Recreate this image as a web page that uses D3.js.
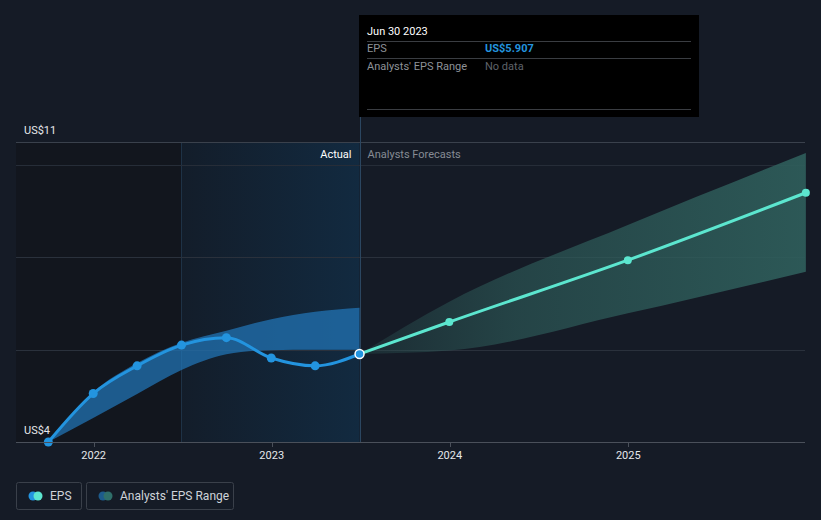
<!DOCTYPE html>
<html><head><meta charset="utf-8">
<script src="https://cdn.jsdelivr.net/npm/d3@7"></script>
<style>
html,body{margin:0;padding:0;background:#151b26;}
svg{display:block;font-family:Roboto,"Open Sans",sans-serif;}
</style></head>
<body>
<svg id="c" width="821" height="520"></svg>
<script>
// ---- data ----
const actualDates = ["2021-09-30","2021-12-31","2022-03-31","2022-06-30","2022-09-30","2022-12-31","2023-03-31","2023-06-30"];
const actualEPS   = [4.00, 5.05, 5.65, 6.10, 6.26, 5.82, 5.65, 5.907];
const pastRangeLow  = [4.00, 4.52, 5.04, 5.56, 5.90, 5.99, 6.00, 6.00];
const pastRangeHigh = [4.00, 5.08, 5.71, 6.15, 6.41, 6.66, 6.82, 6.91];
const forecastDates = ["2023-06-30","2023-12-31","2024-12-31","2025-12-31"];
const forecastEPS   = [5.907, 6.60, 7.94, 9.40];
const forecastLow   = [5.907, 5.98, 6.79, 7.69];
const forecastHigh  = [5.907, 7.04, 8.70, 10.26];
const gridValues = [6, 8, 10];
const yLabels = ["US$11", "US$4"];
const xTickYears = ["2022","2023","2024","2025"];

const parse = d3.timeParse("%Y-%m-%d");
const svg = d3.select("#c");
const L = 16, R = 805, T = 142, B = 442;

const x = d3.scaleTime().range([L, R]);
{
  const d0 = parse("2022-01-01"), d1 = parse("2025-01-01");
  const p0 = 93.7, p1 = 628.3;
  const k = (p1 - p0) / (d1 - d0);
  x.domain([new Date(+d0 - (p0 - L) / k), new Date(+d0 + (R - p0) / k)]);
}
const y = d3.scaleLinear().domain([4, 10.5]).range([B, T]);

const nowX = x(parse("2023-06-30"));
const hlX = x(parse("2022-06-30"));

// backgrounds
svg.append("rect").attr("x", L).attr("y", T).attr("width", hlX - L).attr("height", B - T).attr("fill", "#12161e");
const defs = svg.append("defs");
const g1 = defs.append("linearGradient").attr("id", "hl").attr("x1", "0").attr("x2", "1");
g1.append("stop").attr("offset", "0").attr("stop-color", "#131d2a");
g1.append("stop").attr("offset", "1").attr("stop-color", "#122a40");
const g2 = defs.append("linearGradient").attr("id", "fcg").attr("gradientUnits", "userSpaceOnUse")
  .attr("x1", nowX).attr("x2", R).attr("y1", 0).attr("y2", 0);
g2.append("stop").attr("offset", "0").attr("stop-color", "#2f5f5c").attr("stop-opacity", 0.25);
g2.append("stop").attr("offset", "0.35").attr("stop-color", "#2f5f5c").attr("stop-opacity", 0.6);
g2.append("stop").attr("offset", "1").attr("stop-color", "#2f5f5c").attr("stop-opacity", 0.9);
svg.append("rect").attr("x", hlX).attr("y", T).attr("width", nowX - hlX).attr("height", B - T).attr("fill", "url(#hl)");
svg.append("line").attr("x1", hlX).attr("x2", hlX).attr("y1", T).attr("y2", B).attr("stroke", "#1f3347").attr("stroke-width", 1);

// grid
svg.selectAll(".grid").data(gridValues).join("line")
  .attr("x1", L).attr("x2", R).attr("y1", d => Math.round(y(d)) + 0.5).attr("y2", d => Math.round(y(d)) + 0.5)
  .attr("stroke", "#2a313c").attr("stroke-width", 1);
svg.append("line").attr("x1", L).attr("x2", R).attr("y1", T + 0.5).attr("y2", T + 0.5).attr("stroke", "#3a414c");
svg.append("line").attr("x1", L).attr("x2", R).attr("y1", 165.5).attr("y2", 165.5).attr("stroke", "#262d38");

// bands
const past = actualDates.map((d, i) => ({d: parse(d), v: actualEPS[i], lo: pastRangeLow[i], hi: pastRangeHigh[i]}));
const fc = forecastDates.map((d, i) => ({d: parse(d), v: forecastEPS[i], lo: forecastLow[i], hi: forecastHigh[i]}));

const area = d3.area().x(d => x(d.d)).y0(d => y(d.lo)).y1(d => y(d.hi)).curve(d3.curveMonotoneX);
svg.append("path").datum(past).attr("d", area).attr("fill", "#2176b8").attr("opacity", 0.72);
svg.append("path").datum(fc).attr("d", area).attr("fill", "url(#fcg)");

// now line
svg.append("line").attr("x1", Math.round(nowX) + 0.5).attr("x2", Math.round(nowX) + 0.5).attr("y1", 15).attr("y2", B)
  .attr("stroke", "#2b4660").attr("stroke-width", 1);

// lines
const line = d3.line().x(d => x(d.d)).y(d => y(d.v)).curve(d3.curveMonotoneX);
svg.append("path").datum(fc).attr("d", line).attr("fill", "none").attr("stroke", "#5ce6cf").attr("stroke-width", 3);
svg.append("path").datum(past).attr("d", line).attr("fill", "none").attr("stroke", "#2394df").attr("stroke-width", 3);

svg.selectAll(".fp").data(fc.slice(1)).join("circle")
  .attr("cx", d => x(d.d)).attr("cy", d => y(d.v)).attr("r", 4).attr("fill", "#5ce6cf");
svg.selectAll(".ap").data(past.slice(0, -1)).join("circle")
  .attr("cx", d => x(d.d)).attr("cy", d => y(d.v)).attr("r", 4.5).attr("fill", "#2394df");
const last = past[past.length - 1];
svg.append("circle").attr("cx", x(last.d)).attr("cy", y(last.v)).attr("r", 4.5)
  .attr("fill", "#2394df").attr("stroke", "#ffffff").attr("stroke-width", 1.5);

// x axis
svg.append("line").attr("x1", L).attr("x2", R).attr("y1", B + 0.5).attr("y2", B + 0.5).attr("stroke", "#4a505a");
const xt = xTickYears.map(s => parse(s + "-01-01"));
svg.selectAll(".xt").data(xt).join("line")
  .attr("x1", d => Math.round(x(d)) + 0.5).attr("x2", d => Math.round(x(d)) + 0.5).attr("y1", B).attr("y2", B + 5)
  .attr("stroke", "#4a505a");
svg.selectAll(".xl").data(xt).join("text")
  .attr("x", d => x(d)).attr("y", 459).attr("text-anchor", "middle")
  .attr("fill", "#e6e8eb").attr("font-size", 11).text(d => d3.timeFormat("%Y")(d));

// y labels
svg.append("text").attr("x", 24).attr("y", 134).attr("fill", "#e6e8eb").attr("font-size", 11).text(yLabels[0]);
svg.append("text").attr("x", 24).attr("y", 434).attr("fill", "#e6e8eb").attr("font-size", 11).text(yLabels[1]);

// section labels
svg.append("text").attr("x", nowX - 8).attr("y", 158).attr("text-anchor", "end").attr("fill", "#ffffff").attr("font-size", 11).text("Actual");
svg.append("text").attr("x", nowX + 8).attr("y", 158).attr("fill", "#868b94").attr("font-size", 11).text("Analysts Forecasts");

// tooltip
const tt = svg.append("g");
tt.append("rect").attr("x", 359).attr("y", 15).attr("width", 340).attr("height", 102).attr("fill", "#000000");
tt.append("text").attr("x", 367).attr("y", 35).attr("fill", "#ffffff").attr("font-size", 11).text("Jun 30 2023");
[41.5, 58.5, 109.5].forEach(v => tt.append("line").attr("x1", 367).attr("x2", 691).attr("y1", v).attr("y2", v).attr("stroke", "#3a3d42"));
tt.append("text").attr("x", 367).attr("y", 52).attr("fill", "#8e9298").attr("font-size", 11).text("EPS");
tt.append("text").attr("x", 485).attr("y", 52).attr("fill", "#2394df").attr("font-size", 11).attr("font-weight", "bold").text("US$" + actualEPS[actualEPS.length - 1].toFixed(3));
tt.append("text").attr("x", 367).attr("y", 70).attr("fill", "#8e9298").attr("font-size", 11).text("Analysts' EPS Range");
tt.append("text").attr("x", 485).attr("y", 70).attr("fill", "#5f636a").attr("font-size", 11).text("No data");

// legend
const lg = svg.append("g");
lg.append("rect").attr("x", 16.5).attr("y", 482.5).attr("width", 65).attr("height", 27).attr("rx", 2).attr("fill", "none").attr("stroke", "#3a404a");
lg.append("rect").attr("x", 86.5).attr("y", 482.5).attr("width", 147).attr("height", 27).attr("rx", 2).attr("fill", "none").attr("stroke", "#3a404a");
lg.append("circle").attr("cx", 33).attr("cy", 496).attr("r", 4.5).attr("fill", "#2394df");
lg.append("circle").attr("cx", 38).attr("cy", 496).attr("r", 4.5).attr("fill", "#5ce6cf");
lg.append("circle").attr("cx", 103).attr("cy", 496).attr("r", 4.5).attr("fill", "#1d5b8c");
lg.append("circle").attr("cx", 108).attr("cy", 496).attr("r", 4.5).attr("fill", "#2f6f6a");
lg.append("text").attr("x", 50).attr("y", 500).attr("fill", "#cfd3d9").attr("font-size", 12).text("EPS");
lg.append("text").attr("x", 120).attr("y", 500).attr("fill", "#cfd3d9").attr("font-size", 12).text("Analysts' EPS Range");
</script>
</body></html>
